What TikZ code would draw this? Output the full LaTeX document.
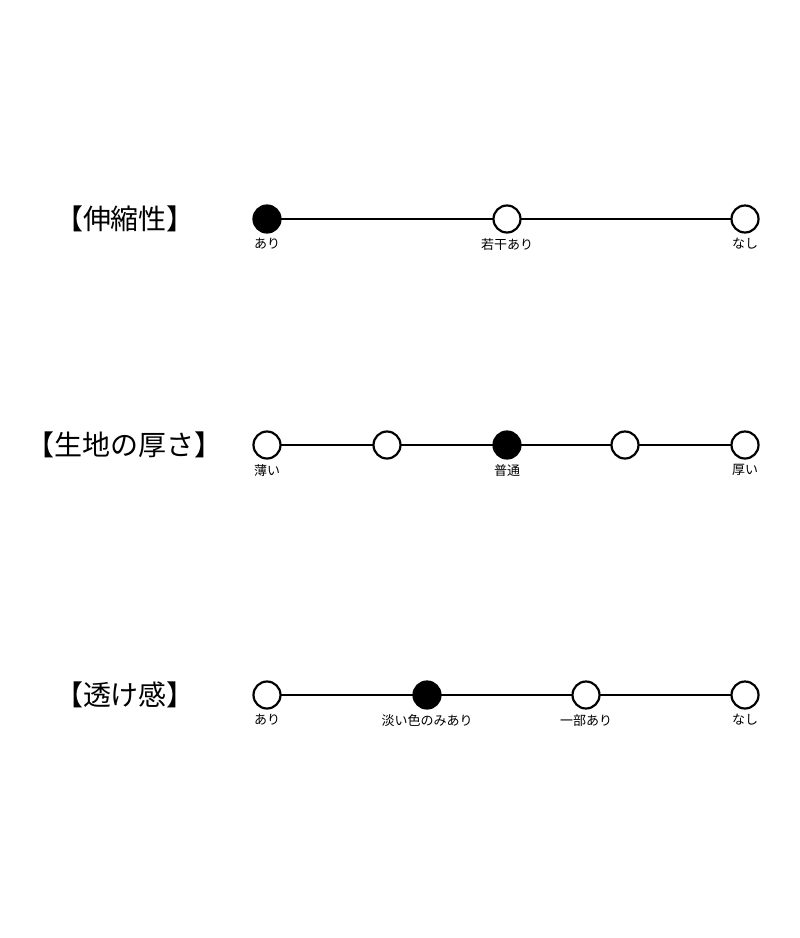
\documentclass[tikz,border=0pt]{standalone}
\usepackage{fontspec}
\setmainfont{Noto Sans CJK JP}
\begin{document}
\begin{tikzpicture}[x=1pt,y=-1pt,
  dot/.style={circle,draw,line width=2.2pt,minimum size=27pt,inner sep=0pt,fill=white},
  on/.style={dot,fill=black},
  lbl/.style={font=\fontsize{13}{15}\selectfont,anchor=north},
  ttl/.style={font=\fontsize{28}{32}\selectfont}]
\useasboundingbox (0,0) rectangle (800,938);
% stretch
\node[ttl] (t1) at (125,219) {【伸縮性】};
\draw[line width=2.2pt] (267,219) -- (745,219);
\node[on] (a1) at (267,219) {};
\node[dot] (a2) at (507,219) {};
\node[dot] (a3) at (745,219) {};
\node[lbl] at (267,235) {あり};
\node[lbl] at (507,235) {若干あり};
\node[lbl] at (745,235) {なし};
% thickness
\node[ttl] (t2) at (125,445) {【生地の厚さ】};
\draw[line width=2.2pt] (267,445) -- (745,445);
\foreach \x/\n in {267/b1,387/b2,625/b4,745/b5} \node[dot] (\n) at (\x,445) {};
\node[on] (b3) at (507,445) {};
\node[lbl] at (267,461) {薄い};
\node[lbl] at (507,461) {普通};
\node[lbl] at (745,461) {厚い};
% see-through
\node[ttl] (t3) at (125,695) {【透け感】};
\draw[line width=2.2pt] (267,695) -- (745,695);
\foreach \x/\n in {267/c1,586/c3,745/c4} \node[dot] (\n) at (\x,695) {};
\node[on] (c2) at (427,695) {};
\node[lbl] at (267,711) {あり};
\node[lbl] at (427,711) {淡い色のみあり};
\node[lbl] at (586,711) {一部あり};
\node[lbl] at (745,711) {なし};
\end{tikzpicture}
\end{document}
